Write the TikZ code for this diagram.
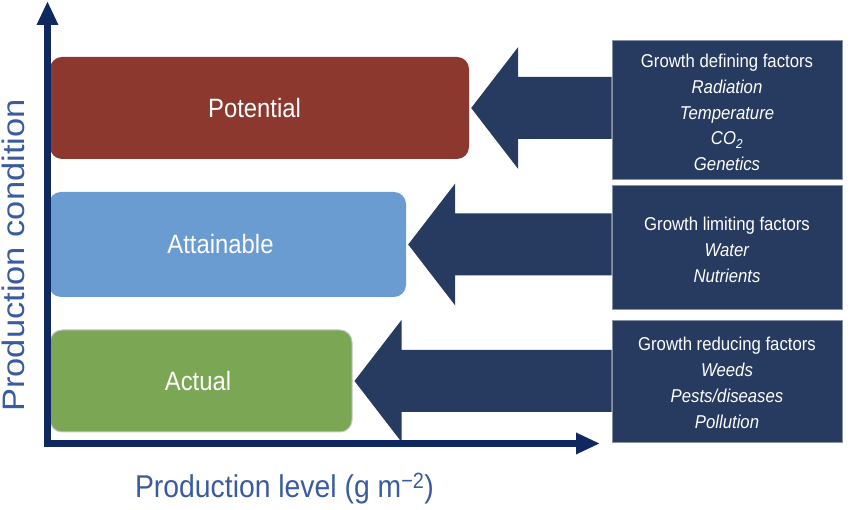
\documentclass[tikz,border=0pt]{standalone}
\usepackage{graphicx}
\usepackage{fontspec}
\setmainfont{Liberation Sans}[FakeStretch=0.9]
\newfontfamily\plainsans{Liberation Sans}
\usetikzlibrary{arrows.meta,calc}

\definecolor{potred}{HTML}{8C382E}
\definecolor{attblue}{HTML}{6A9BD1}
\definecolor{actgreen}{HTML}{7BA755}
\definecolor{factnavy}{HTML}{273A60}
\definecolor{axisnavy}{HTML}{10285F}
\definecolor{labelblue}{HTML}{3A5BA0}

\tikzset{
  cond box/.style={rounded corners=12pt, inner sep=0pt},
  cond text/.style={text=white, inner sep=0pt, font=\fontsize{26.5}{30}\selectfont},
  factor box/.style={fill=factnavy, draw=factnavy!55!white, line width=0.8pt,
    inner sep=0pt, minimum width=230pt},
  factor text/.style={text=white, align=center, inner sep=0pt,
    font=\fontsize{18.6}{25.8}\selectfont},
  axis line/.style={draw=axisnavy, line width=6.5pt,
    -{Triangle[length=24pt,width=20pt]}},
  axis label/.style={text=labelblue}
}

% wide arrow from a factor box to a condition box
\newcommand{\factorarrow}[2]{%
  \fill[factnavy] let \p1=(#1.west), \p2=(#2.east) in
    (\x1,\y2+31pt) -- (\x2+49pt,\y2+31pt) -- (\x2+49pt,\y2+61pt)
    -- (\x2+2pt,\y2) -- (\x2+49pt,\y2-61pt) -- (\x2+49pt,\y2-31pt)
    -- (\x1,\y2-31pt) -- cycle;}

\begin{document}
\begin{tikzpicture}[x=1pt,y=1pt]
  \useasboundingbox (0,0) rectangle (852,510);

  % production conditions
  \node[cond box, fill=potred, minimum width=419pt, minimum height=102pt,
    label={[cond text, xshift=-5pt]center:Potential}] (pot) at (259.5,402) {};
  \node[cond box, fill=attblue, minimum width=357pt, minimum height=105pt,
    label={[cond text, xshift=-7pt]center:Attainable}] (att) at (227.5,265.5) {};
  \node[cond box, fill=actgreen, draw=gray!45, line width=1pt, minimum width=302pt, minimum height=102pt,
    label={[cond text, xshift=-3pt]center:Actual}] (act) at (201,129) {};

  % factors
  \node[factor box, minimum height=139pt] (def) at (727,400.5) {};
  \node[factor box, minimum height=124pt] (lim) at (727,263) {};
  \node[factor box, minimum height=122pt] (red) at (727,129) {};
  \node[factor text] (deftext) at ([yshift=-3pt]def.center) {Growth defining factors\\ \textit{Radiation}\\ \textit{Temperature}\\ \textit{CO\textsubscript{2}}\\ \textit{Genetics}};
  \node[factor text] (limtext) at ([yshift=-3pt]lim.center) {Growth limiting factors\\ \textit{Water}\\ \textit{Nutrients}};
  \node[factor text] (redtext) at ([yshift=-2pt]red.center) {Growth reducing factors\\ \textit{Weeds}\\ \textit{Pests/diseases}\\ \textit{Pollution}};

  \factorarrow{def}{pot}
  \factorarrow{lim}{att}
  \factorarrow{red}{act}

  % axes
  \coordinate (ybot) at (47.5,63);
  \coordinate (ytop) at (47.5,509);
  \coordinate (xbeg) at (44,66.5);
  \coordinate (xend) at (600,66.5);
  \draw[axis line] (ybot) -- (ytop);
  \draw[axis line] (xbeg) -- (xend);

  \node[axis label, anchor=base, font=\fontsize{31.5}{34}\selectfont] (xlab) at (284.5,12) {Production level (g m\textsuperscript{−2})};
  \node[axis label, anchor=base, rotate=90] (ylab) at (25,254.5) {\scalebox{1}[0.9]{\plainsans\fontsize{34.5}{38}\selectfont Production condition}};
\end{tikzpicture}
\end{document}
